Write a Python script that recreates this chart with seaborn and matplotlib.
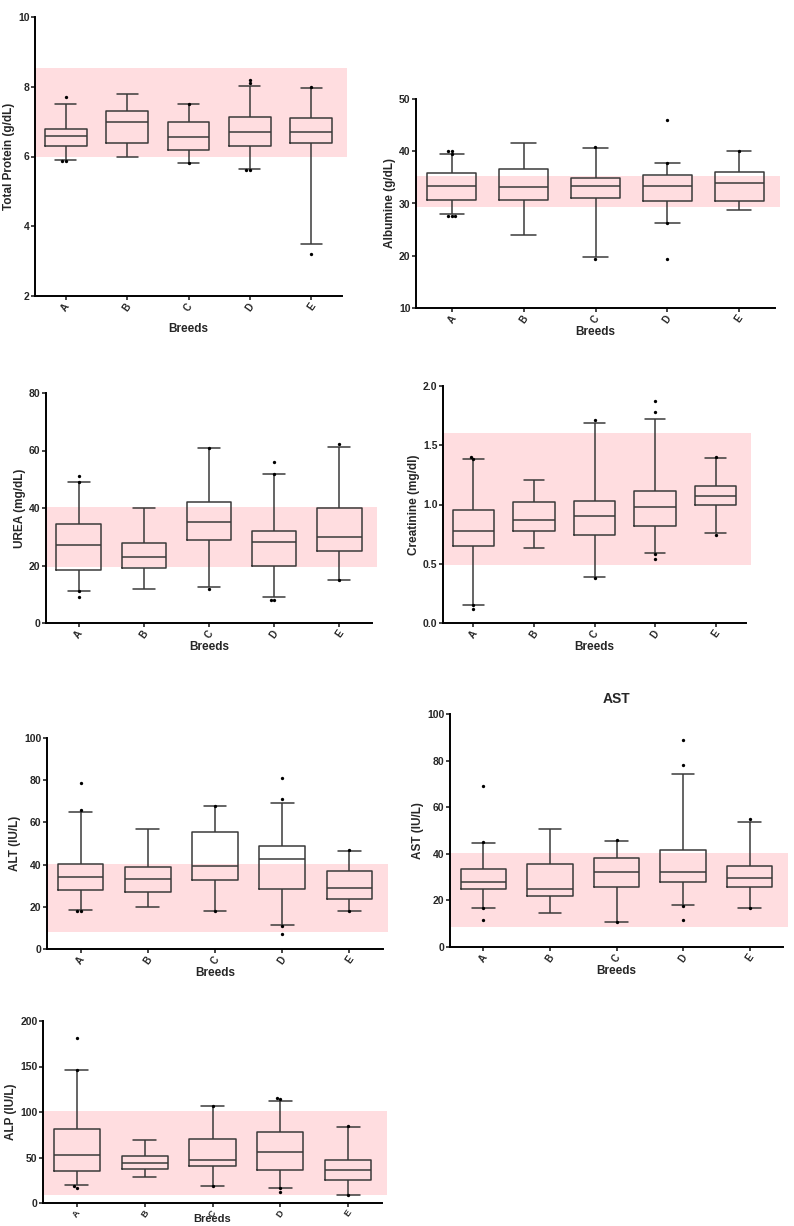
import numpy as np
import pandas as pd
import matplotlib
matplotlib.use("Agg")
import matplotlib.pyplot as plt
import seaborn as sns

breeds = ["A", "B", "C", "D", "E"]

# box summaries: [low whisker, Q1, median, Q3, high whisker]
tp_box = [[5.9, 6.3, 6.6, 6.8, 7.5], [6.0, 6.4, 7.0, 7.3, 7.8], [5.8, 6.18, 6.55, 7.0, 7.5],
          [5.63, 6.3, 6.7, 7.12, 8.02], [3.48, 6.4, 6.7, 7.1, 7.97]]
tp_out = [[7.7, 5.88, 5.88], [], [7.5, 5.8], [8.2, 8.1, 5.6, 5.6], [8.0, 3.2]]
tp_ref = (6.0, 8.55)

alb_box = [[28.0, 30.6, 33.3, 35.9, 39.4], [23.9, 30.6, 33.2, 36.6, 41.5], [19.8, 31.0, 33.3, 34.8, 40.6],
           [26.3, 30.5, 33.3, 35.4, 37.8], [28.7, 30.5, 33.9, 36.0, 40.0]]
alb_out = [[40.1, 40.1, 39.4, 27.7, 27.7, 27.7], [], [40.8, 19.4], [46.0, 37.8, 26.2, 19.4], [40.0]]
alb_ref = (29.4, 35.3)

urea_box = [[11.2, 18.5, 27.0, 34.5, 48.9], [12.0, 19.1, 22.9, 28.0, 40.1], [12.5, 28.9, 35.0, 42.2, 60.7],
            [9.1, 20.0, 28.1, 31.9, 51.7], [15.0, 25.0, 29.9, 39.9, 61.2]]
urea_out = [[51.1, 48.9, 11.0, 9.0], [], [61.0, 12.0], [56.1, 52.0, 7.9, 7.9], [62.1, 14.8]]
urea_ref = (19.5, 40.2)

crea_box = [[0.155, 0.65, 0.78, 0.95, 1.38], [0.63, 0.78, 0.87, 1.02, 1.21], [0.385, 0.74, 0.90, 1.03, 1.69],
            [0.587, 0.82, 0.975, 1.115, 1.72], [0.76, 1.00, 1.07, 1.16, 1.39]]
crea_out = [[1.40, 1.38, 0.15, 0.12], [], [1.71, 0.38], [1.87, 1.78, 0.58, 0.54], [1.40, 0.74]]
crea_ref = (0.49, 1.607)

alt_box = [[18.3, 27.9, 33.9, 40.3, 65.0], [19.8, 27.0, 33.0, 38.7, 56.9], [18.1, 32.8, 39.4, 55.3, 67.9],
           [11.2, 28.5, 42.5, 48.8, 69.4], [18.0, 23.9, 28.8, 36.9, 46.6]]
alt_out = [[78.9, 66.0, 17.8, 17.8], [], [67.9, 17.8], [81.1, 71.0, 10.9, 6.9], [46.8, 17.8]]
alt_ref = (8.0, 40.2)

ast_box = [[16.9, 24.8, 27.7, 33.6, 44.6], [14.8, 21.7, 24.8, 35.6, 50.8], [10.8, 25.8, 32.4, 38.3, 45.6],
           [18.2, 27.7, 32.0, 41.8, 74.2], [16.9, 25.8, 29.7, 34.7, 53.8]]
ast_out = [[68.9, 44.9, 16.8, 11.8], [], [45.9, 10.8], [89.0, 78.0, 17.8, 11.8], [55.0, 16.8]]
ast_ref = (8.6, 40.3)

alp_box = [[19.8, 34.9, 53.2, 81.5, 145.7], [28.6, 37.4, 43.7, 51.7, 69.7], [19.1, 41.1, 47.3, 70.1, 106.4],
           [16.5, 36.7, 56.5, 78.5, 112.3], [8.8, 25.7, 36.0, 47.7, 84.0]]
alp_out = [[180.9, 145.7, 19.1, 16.5], [], [106.8, 19.1], [113.8, 115.2, 16.1, 12.1], [84.4, 8.4]]
alp_ref = (9.2, 100.6)

PINK = "#ffdde0"
BOX_COLOR = "#3a3a3a"
W, H = 794, 1226

sns.set_style("ticks")
plt.rcParams["font.family"] = ["Liberation Sans", "DejaVu Sans"]
plt.rcParams["font.weight"] = "bold"
plt.rcParams["axes.labelweight"] = "bold"


def rect(l, t, r, b):
    return [l / W, 1 - b / H, (r - l) / W, (b - t) / H]


def draw_panel(ax, box, out, ref, ylim, yticks, ylabel, fmt="{:.0f}", title=None, labelpad=1, xsize=7):
    df = pd.DataFrame([(b, v) for b, vals in zip(breeds, box) for v in vals], columns=["breed", "value"])
    odf = pd.DataFrame([(b, v) for b, vals in zip(breeds, out) for v in vals], columns=["breed", "value"])

    ax.axhspan(ref[0], ref[1], xmin=0, xmax=1.015, color=PINK, lw=0, zorder=0, clip_on=False)
    sns.boxplot(data=df, x="breed", y="value", order=breeds, whis=(0, 100), width=0.68,
                fill=False, color=BOX_COLOR, linewidth=1.1, showfliers=False, ax=ax)
    sns.swarmplot(data=odf, x="breed", y="value", order=breeds, color="black", size=2.4, ax=ax)

    ax.set_xlim(-0.5, 4.5)
    ax.set_ylim(*ylim)
    ax.set_yticks(yticks)
    ax.set_yticklabels([fmt.format(t) for t in yticks])
    ax.set_xlabel("Breeds", fontsize=8.5, labelpad=labelpad)
    ax.set_ylabel(ylabel, fontsize=8.5, labelpad=2)
    ax.tick_params(axis="x", rotation=55, labelsize=xsize, length=3, width=1.2, pad=1)
    ax.tick_params(axis="y", labelsize=7.5, length=3, width=1.2, pad=1)
    if title:
        ax.set_title(title, fontsize=10, fontweight="bold", pad=8)
    sns.despine(ax=ax)
    for s in ["left", "bottom"]:
        ax.spines[s].set_linewidth(1.4)
        ax.spines[s].set_color("black")


fig = plt.figure(figsize=(W / 100, H / 100), dpi=100)

ax1 = fig.add_axes(rect(35, 17, 342, 296))
draw_panel(ax1, tp_box, tp_out, tp_ref, (2, 10), [2, 4, 6, 8, 10], "Total Protein (g/dL)", labelpad=7)

ax2 = fig.add_axes(rect(416, 99, 775, 308))
draw_panel(ax2, alb_box, alb_out, alb_ref, (10, 50), [10, 20, 30, 40, 50], "Albumine (g/dL)")

ax3 = fig.add_axes(rect(46, 393, 372, 623))
draw_panel(ax3, urea_box, urea_out, urea_ref, (0, 80), [0, 20, 40, 60, 80], "UREA (mg/dL)")

ax4 = fig.add_axes(rect(443, 386, 746, 623))
draw_panel(ax4, crea_box, crea_out, crea_ref, (0, 2.0), [0.0, 0.5, 1.0, 1.5, 2.0], "Creatinine (mg/dl)", fmt="{:.1f}")

ax5 = fig.add_axes(rect(47, 738, 383, 949))
draw_panel(ax5, alt_box, alt_out, alt_ref, (0, 100), [0, 20, 40, 60, 80, 100], "ALT (IU/L)")

ax6 = fig.add_axes(rect(450, 714, 783, 947))
draw_panel(ax6, ast_box, ast_out, ast_ref, (0, 100), [0, 20, 40, 60, 80, 100], "AST (IU/L)", title="AST")

ax7 = fig.add_axes(rect(43, 1021, 382, 1203))
draw_panel(ax7, alp_box, alp_out, alp_ref, (0, 200), [0, 50, 100, 150, 200], "ALP (IU/L)", xsize=6.5)
# the last panel sits tight on the bottom edge
ax7.xaxis.label.set_fontsize(8)
ax7.xaxis.set_label_coords(0.5, -0.058)

fig.savefig("out.png", dpi=100, facecolor="white")
